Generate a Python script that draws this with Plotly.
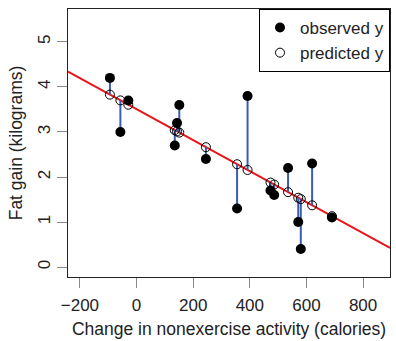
import plotly.graph_objects as go

nea = [-94, -57, -29, 135, 143, 151, 245, 355, 392, 473, 486, 535, 571, 580, 620, 690]
fat = [4.2, 3.0, 3.7, 2.7, 3.2, 3.6, 2.4, 1.3, 3.8, 1.7, 1.6, 2.2, 1.0, 0.4, 2.3, 1.1]
x_ticks = [-200, 0, 200, 400, 600, 800]
y_ticks = [0, 1, 2, 3, 4, 5]

n = len(nea)
mx = sum(nea) / n
my = sum(fat) / n
b = sum((a - mx) * (c - my) for a, c in zip(nea, fat)) / sum((a - mx) ** 2 for a in nea)
a0 = my - b * mx
pred = [a0 + b * v for v in nea]

xr = [-242, 895]
yr = [-0.22, 5.73]

seg_x, seg_y = [], []
for xi, yi, pi in zip(nea, fat, pred):
    seg_x += [xi, xi, None]
    seg_y += [yi, pi, None]

fig = go.Figure()
fig.add_trace(go.Scatter(x=xr, y=[a0 + b * v for v in xr], mode="lines",
                         line=dict(color="#e8141b", width=2), showlegend=False, hoverinfo="skip"))
fig.add_trace(go.Scatter(x=seg_x, y=seg_y, mode="lines",
                         line=dict(color="#3a5db0", width=2), showlegend=False, hoverinfo="skip"))
fig.add_trace(go.Scatter(x=nea, y=fat, mode="markers", name="observed y",
                         marker=dict(color="black", size=10, line=dict(width=0))))
fig.add_trace(go.Scatter(x=nea, y=pred, mode="markers", name="predicted y",
                         marker=dict(symbol="circle-open", color="black", size=9, line=dict(width=1))))

font = "Liberation Sans, Arial, sans-serif"
fig.update_layout(
    width=396, height=341,
    margin=dict(l=68, r=5, t=9, b=62),
    plot_bgcolor="white", paper_bgcolor="white",
    font=dict(family=font, size=17, color="#222"),
    legend=dict(x=1, y=1, xanchor="right", yanchor="top", bordercolor="black", borderwidth=1,
                bgcolor="white", font=dict(size=17), tracegroupgap=0),
    xaxis=dict(range=xr, tickvals=x_ticks, ticks="outside", ticklen=10, tickcolor="#888",
               showline=True, linecolor="#222", mirror=True, showgrid=False, zeroline=False,
               tickfont=dict(size=17), ticklabelstandoff=3,
               title=dict(text="Change in nonexercise activity (calories)", standoff=8,
                          font=dict(size=17.5))),
    yaxis=dict(range=yr, tickvals=y_ticks, ticks="outside", ticklen=10, tickcolor="#888",
               tickangle=-90, tickfont=dict(size=17),
               showline=True, linecolor="#222", mirror=True, showgrid=False, zeroline=False,
               title=dict(text="Fat gain (kilograms)", standoff=8, font=dict(size=17.5))),
)
fig.write_html("out.html", config={"displayModeBar": False},
               post_script="document.body.style.margin='0';")
